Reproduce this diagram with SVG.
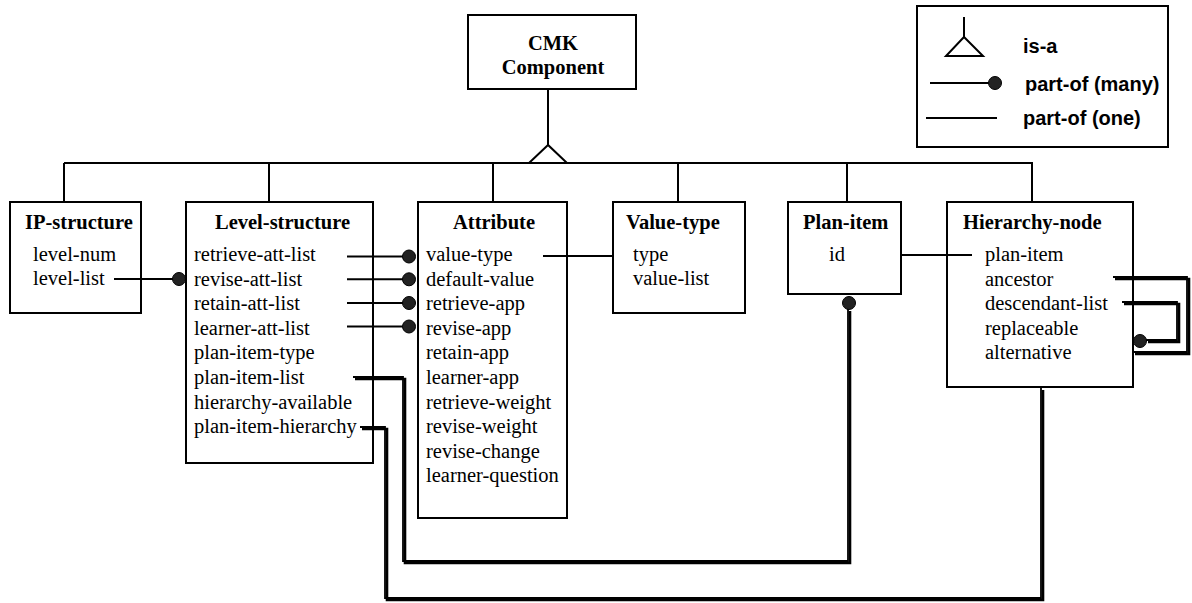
<svg xmlns="http://www.w3.org/2000/svg" width="1192" height="603" viewBox="0 0 1192 603">
<style>
.box{fill:#fff;stroke:#000;stroke-width:2}
.t{font-family:"Liberation Serif","Times New Roman",serif;font-size:20.5px;fill:#000}
.b{font-weight:bold}
.lg{font-family:"Liberation Sans",Arial,sans-serif;font-size:20px;font-weight:bold;fill:#000}
.ln{stroke:#000;stroke-width:2;fill:none}
.dsh{stroke:#000;stroke-width:2.6;fill:none}
.dbl{stroke:#000;stroke-width:1.8;fill:none}
.dot{fill:#222;stroke:#000;stroke-width:1}
</style>
<defs>
<path id="loopA" d="M353,377 H403 V561 H848 V309"/>
<path id="loopB" d="M360,427 H385 V598 H1041 V388"/>
<path id="selfA" d="M1113,277 H1187 V352 H1133"/>
<path id="selfB" d="M1122,302 H1177 V340 H1146"/>
</defs>

<g id="legend">
<rect class="box" x="917" y="6" width="251" height="141"/>
<line class="ln" x1="964" y1="17" x2="964" y2="37"/>
<polygon class="ln" points="964,37 946,56 983,56"/>
<text class="lg" x="1023" y="53">is-a</text>
<line class="ln" x1="930" y1="83" x2="992" y2="83"/>
<circle class="dot" cx="995" cy="83" r="6.5"/>
<text class="lg" x="1025" y="91">part-of (many)</text>
<line class="ln" x1="926" y1="118" x2="997" y2="118"/>
<text class="lg" x="1023" y="125">part-of (one)</text>
</g>

<g id="connectors">
<line class="ln" x1="548" y1="89" x2="548" y2="145"/>
<polygon class="ln" points="548,145 529,163 567,163"/>
<line class="ln" x1="64" y1="163" x2="1033" y2="163"/>
<line class="ln" x1="64" y1="163" x2="64" y2="202"/>
<line class="ln" x1="269" y1="163" x2="269" y2="202"/>
<line class="ln" x1="493" y1="163" x2="493" y2="202"/>
<line class="ln" x1="678" y1="163" x2="678" y2="202"/>
<line class="ln" x1="847" y1="163" x2="847" y2="202"/>
<line class="ln" x1="1032" y1="163" x2="1032" y2="202"/>
</g>

<g id="cmk-component">
<rect class="box" x="468" y="15" width="168" height="74"/>
<text class="t b" x="553" y="50" text-anchor="middle">CMK</text>
<text class="t b" x="553" y="74" text-anchor="middle">Component</text>
</g>

<g id="ip-structure">
<rect class="box" x="10" y="202" width="131" height="111"/>
<text class="t b" x="25" y="229">IP-structure</text>
<text class="t" x="33" y="261">level-num</text>
<text class="t" x="33" y="285">level-list</text>
</g>

<g id="level-structure">
<rect class="box" x="186" y="202" width="187" height="261"/>
<text class="t b" x="215" y="229">Level-structure</text>
<text class="t" x="194" y="261">retrieve-att-list</text>
<text class="t" x="194" y="285.6">revise-att-list</text>
<text class="t" x="194" y="310.2">retain-att-list</text>
<text class="t" x="194" y="334.8">learner-att-list</text>
<text class="t" x="194" y="359.4">plan-item-type</text>
<text class="t" x="194" y="384">plan-item-list</text>
<text class="t" x="194" y="408.6">hierarchy-available</text>
<text class="t" x="194" y="433.2">plan-item-hierarchy</text>
</g>

<g id="attribute">
<rect class="box" x="418" y="202" width="149" height="316"/>
<text class="t b" x="453" y="229">Attribute</text>
<text class="t" x="426" y="261">value-type</text>
<text class="t" x="426" y="285.6">default-value</text>
<text class="t" x="426" y="310.2">retrieve-app</text>
<text class="t" x="426" y="334.8">revise-app</text>
<text class="t" x="426" y="359.4">retain-app</text>
<text class="t" x="426" y="384">learner-app</text>
<text class="t" x="426" y="408.6">retrieve-weight</text>
<text class="t" x="426" y="433.2">revise-weight</text>
<text class="t" x="426" y="457.8">revise-change</text>
<text class="t" x="426" y="482.4">learner-question</text>
</g>

<g id="value-type">
<rect class="box" x="613" y="202" width="132" height="111"/>
<text class="t b" x="626" y="229">Value-type</text>
<text class="t" x="633" y="261">type</text>
<text class="t" x="633" y="285">value-list</text>
</g>

<g id="plan-item">
<rect class="box" x="788" y="202" width="113" height="92"/>
<text class="t b" x="803" y="229">Plan-item</text>
<text class="t" x="829" y="261">id</text>
</g>

<g id="hierarchy-node">
<rect class="box" x="947" y="202" width="186" height="185"/>
<text class="t b" x="963" y="229">Hierarchy-node</text>
<text class="t" x="985" y="261">plan-item</text>
<text class="t" x="985" y="285.6">ancestor</text>
<text class="t" x="985" y="310.2">descendant-list</text>
<text class="t" x="985" y="334.8">replaceable</text>
<text class="t" x="985" y="359.4">alternative</text>
</g>

<g id="relations">
<line class="ln" x1="114" y1="279" x2="175" y2="279"/>
<circle class="dot" cx="179" cy="279" r="6.5"/>
<line class="ln" x1="347" y1="256.5" x2="406" y2="256.5"/>
<circle class="dot" cx="409" cy="256.5" r="6.5"/>
<line class="ln" x1="347" y1="279.3" x2="406" y2="279.3"/>
<circle class="dot" cx="409" cy="279.3" r="6.5"/>
<line class="ln" x1="347" y1="303" x2="406" y2="303"/>
<circle class="dot" cx="409" cy="303" r="6.5"/>
<line class="ln" x1="347" y1="326.5" x2="406" y2="326.5"/>
<circle class="dot" cx="409" cy="326.5" r="6.5"/>
<line class="ln" x1="543" y1="256" x2="613" y2="256"/>
<line class="ln" x1="901" y1="255" x2="972" y2="255"/>
<use href="#loopA" class="dsh" transform="translate(2,2)"/>
<use href="#loopA" class="dbl"/>
<circle class="dot" cx="849" cy="303" r="6.5"/>
<use href="#loopB" class="dsh" transform="translate(2,2)"/>
<use href="#loopB" class="dbl"/>
<use href="#selfA" class="dsh" transform="translate(2,2)"/>
<use href="#selfA" class="dbl"/>
<use href="#selfB" class="dsh" transform="translate(2,2)"/>
<use href="#selfB" class="dbl"/>
<circle class="dot" cx="1140" cy="341" r="6.5"/>
</g>
</svg>
